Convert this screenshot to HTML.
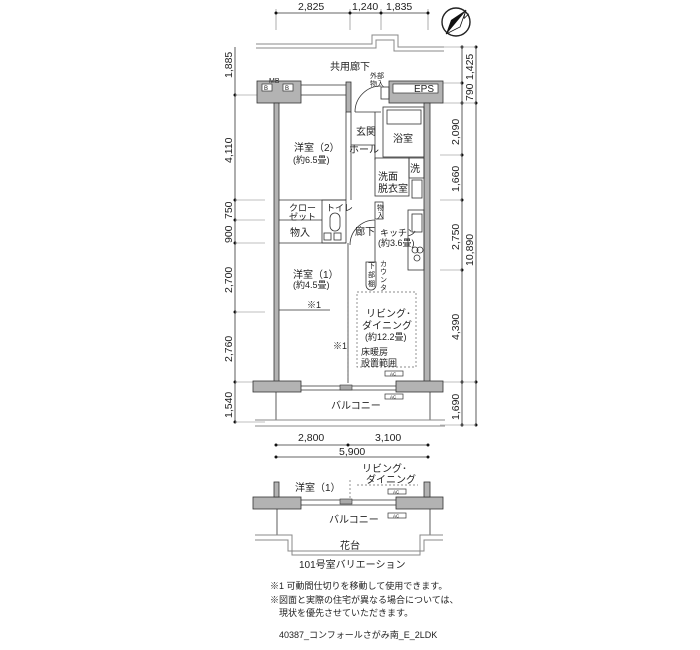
<!DOCTYPE html>
<html><head><meta charset="utf-8"><style>
html,body{margin:0;padding:0;background:#fff;}
svg{display:block;}
text{font-family:"Liberation Sans","Noto Sans CJK JP",sans-serif;fill:#222;}
.s{font-size:9px;}
.m{font-size:10px;}
.d{font-size:10.5px;}
</style></head><body>
<svg width="700" height="650" viewBox="0 0 700 650" xmlns="http://www.w3.org/2000/svg">
<g stroke="#333" stroke-width="0.8" fill="none">
<line x1="276" y1="13" x2="428" y2="13"/>
<line x1="276" y1="9" x2="276" y2="30" stroke="#999"/><line x1="350" y1="9" x2="350" y2="30" stroke="#999"/>
<line x1="381" y1="9" x2="381" y2="30" stroke="#999"/><line x1="428" y1="9" x2="428" y2="30" stroke="#999"/>
<line x1="235" y1="47" x2="235" y2="422"/>
<line x1="462" y1="47" x2="462" y2="425"/>
<line x1="476" y1="47" x2="476" y2="425"/>
<line x1="276" y1="445" x2="428" y2="445"/>
<line x1="276" y1="457" x2="428" y2="457"/>
</g>
<g fill="#111">
<circle cx="276" cy="13" r="1.5"/><circle cx="350" cy="13" r="1.5"/><circle cx="381" cy="13" r="1.5"/><circle cx="428" cy="13" r="1.5"/>
<circle cx="235" cy="95" r="1.5"/><circle cx="235" cy="200" r="1.5"/><circle cx="235" cy="220" r="1.5"/><circle cx="235" cy="243" r="1.5"/><circle cx="235" cy="312" r="1.5"/><circle cx="235" cy="382" r="1.5"/><circle cx="235" cy="422" r="1.5"/>
<circle cx="462" cy="47" r="1.5"/><circle cx="462" cy="83" r="1.5"/><circle cx="462" cy="103" r="1.5"/><circle cx="462" cy="155" r="1.5"/><circle cx="462" cy="200" r="1.5"/><circle cx="462" cy="270" r="1.5"/><circle cx="462" cy="382" r="1.5"/><circle cx="462" cy="425" r="1.5"/>
<circle cx="476" cy="47" r="1.5"/><circle cx="476" cy="103" r="1.5"/><circle cx="476" cy="382" r="1.5"/><circle cx="476" cy="425" r="1.5"/>
<circle cx="276" cy="445" r="1.5"/><circle cx="348" cy="445" r="1.5"/><circle cx="428" cy="445" r="1.5"/>
<circle cx="276" cy="457" r="1.5"/><circle cx="428" cy="457" r="1.5"/>
</g>
<g stroke="#aaa" stroke-width="0.7">
<line x1="235" y1="95" x2="265" y2="95"/><line x1="235" y1="200" x2="265" y2="200"/><line x1="235" y1="220" x2="265" y2="220"/><line x1="235" y1="243" x2="265" y2="243"/><line x1="235" y1="312" x2="265" y2="312"/><line x1="235" y1="382" x2="265" y2="382"/><line x1="235" y1="422" x2="265" y2="422"/>
<line x1="440" y1="47" x2="476" y2="47"/><line x1="440" y1="83" x2="462" y2="83"/><line x1="440" y1="103" x2="476" y2="103"/><line x1="440" y1="155" x2="462" y2="155"/><line x1="440" y1="200" x2="462" y2="200"/><line x1="440" y1="270" x2="462" y2="270"/><line x1="440" y1="382" x2="476" y2="382"/><line x1="440" y1="425" x2="476" y2="425"/>
</g>
<text class="d" x="298" y="10">2,825</text><text class="d" x="352" y="10">1,240</text><text class="d" x="386" y="10">1,835</text>
<g class="d">
<text transform="translate(232,78) rotate(-90)">1,885</text>
<text transform="translate(232,163) rotate(-90)">4,110</text>
<text transform="translate(232,219) rotate(-90)">750</text>
<text transform="translate(232,243) rotate(-90)">900</text>
<text transform="translate(232,293) rotate(-90)">2,700</text>
<text transform="translate(232,362) rotate(-90)">2,760</text>
<text transform="translate(232,418) rotate(-90)">1,540</text>
<text transform="translate(473,80) rotate(-90)">1,425</text>
<text transform="translate(473,101) rotate(-90)">790</text>
<text transform="translate(459,145) rotate(-90)">2,090</text>
<text transform="translate(459,192) rotate(-90)">1,660</text>
<text transform="translate(459,250) rotate(-90)">2,750</text>
<text transform="translate(473,266) rotate(-90)">10,890</text>
<text transform="translate(459,340) rotate(-90)">4,390</text>
<text transform="translate(459,420) rotate(-90)">1,690</text>
</g>
<text class="d" x="298" y="441">2,800</text><text class="d" x="375" y="441">3,100</text><text class="d" x="339" y="455">5,900</text>
<circle cx="456" cy="22" r="14" fill="#fff" stroke="#222" stroke-width="1.4"/>
<polygon points="466,10 446,34 451,20" fill="#111"/>
<polygon points="466,10 446,34 460,27" fill="#fff" stroke="#111" stroke-width="0.8"/>
<text x="462" y="17" font-size="10" transform="rotate(45 464 13)">N</text>
<g stroke="#888" stroke-width="1" fill="none">
<path d="M256 44 H372 V35 H398 V47 H444"/>
<path d="M256 48 H376 V40 H394 V51 H444"/>
</g>
<text class="m" x="330" y="70">共用廊下</text>
<g fill="#b3b3b3" stroke="#333" stroke-width="0.8">
<rect x="257" y="81" width="44" height="22"/>
<rect x="389" y="81" width="54" height="22"/>
<rect x="274" y="103" width="5" height="279"/>
<rect x="424" y="103" width="6" height="279"/>
<rect x="346" y="82" width="5" height="30"/>
<rect x="253" y="381" width="48" height="11"/>
<rect x="396" y="381" width="47" height="11"/>
<rect x="253" y="497" width="48" height="12"/>
<rect x="396" y="497" width="47" height="12"/>
<rect x="274" y="482" width="5" height="15"/>
<rect x="424" y="482" width="6" height="15"/>
</g>
<g fill="#fff" stroke="#333" stroke-width="0.7">
<rect x="262" y="84" width="10" height="7"/><rect x="283" y="84" width="10" height="7"/>
<rect x="393" y="84" width="45" height="9"/>
</g>
<text x="269" y="83" font-size="7">MB</text>
<text x="264" y="90" font-size="6">B</text><text x="285" y="90" font-size="6">B</text>
<text class="m" x="414" y="92">EPS</text>
<text x="370" y="78" font-size="7">外部</text><text x="370" y="86" font-size="7">物入</text>
<g stroke="#333" stroke-width="0.8" fill="none">
<line x1="301" y1="85" x2="346" y2="85"/><line x1="301" y1="95" x2="346" y2="95"/>
<rect x="381" y="87" width="8" height="12"/>
<path d="M355 112 A26 26 0 0 1 381 86"/><line x1="355" y1="112" x2="381" y2="112"/>
<line x1="351" y1="112" x2="351" y2="200"/><line x1="346" y1="112" x2="346" y2="200"/>
<rect x="383" y="107" width="41" height="50"/>
<rect x="387" y="110" width="34" height="14"/>
<line x1="375" y1="112" x2="375" y2="160"/>
<line x1="351" y1="145" x2="375" y2="145"/>
<rect x="375" y="158" width="34" height="38"/>
<rect x="409" y="158" width="15" height="20"/>
<rect x="412" y="180" width="10" height="18"/>
<line x1="279" y1="200" x2="346" y2="200"/>
<line x1="279" y1="220" x2="322" y2="220"/>
<line x1="279" y1="243" x2="346" y2="243"/>
<rect x="322" y="200" width="24" height="43"/>
<rect x="330" y="213" width="10" height="18" rx="5"/>
<rect x="324" y="233" width="7" height="7"/><rect x="334" y="233" width="7" height="7"/>
<rect x="375" y="202" width="8" height="17"/>
<path d="M350 245 A25 25 0 0 1 375 220"/>
<line x1="375" y1="220" x2="375" y2="262"/>
<rect x="408" y="210" width="16" height="60"/>
<rect x="412" y="214" width="10" height="18"/>
<circle cx="415" cy="250" r="3"/><circle cx="420" cy="250" r="3"/><circle cx="417" cy="258" r="3"/>
<path d="M366 262 H376 V285 A5 5 0 0 1 366 285 Z"/>
<line x1="348" y1="243" x2="348" y2="383"/>
<line x1="279" y1="310" x2="330" y2="310"/>
<line x1="301" y1="386" x2="396" y2="386"/><line x1="301" y1="390" x2="396" y2="390"/>
<line x1="276" y1="392" x2="276" y2="420"/><line x1="430" y1="392" x2="430" y2="420"/>
<line x1="301" y1="500" x2="396" y2="500"/><line x1="301" y1="505" x2="396" y2="505"/>
<line x1="277" y1="509" x2="277" y2="535"/><line x1="430" y1="509" x2="430" y2="535"/>
</g>
<g stroke="#888" stroke-width="1" fill="none">
<line x1="255" y1="420" x2="445" y2="420"/><line x1="255" y1="426" x2="445" y2="426"/>
<path d="M255 535 H292 V555 H420 V535 H443"/>
<path d="M255 540 H288 V551 H424 V540 H443"/>
</g>
<g stroke="#666" stroke-width="0.7" fill="none" stroke-dasharray="2,2">
<rect x="357" y="292" width="59" height="75"/>
<line x1="348" y1="300" x2="348" y2="380"/>
<line x1="350" y1="480" x2="350" y2="498"/>
<line x1="357" y1="485" x2="418" y2="485"/>
</g>
<g fill="#fff" stroke="#333" stroke-width="0.7">
<rect x="385" y="371" width="18" height="5"/><rect x="385" y="394" width="18" height="5"/>
<rect x="388" y="489" width="18" height="5"/><rect x="388" y="513" width="18" height="5"/>
</g>
<g font-size="4.5"><text x="390" y="375.5">AC</text><text x="390" y="398.5">AC</text><text x="393" y="493.5">AC</text><text x="393" y="517.5">AC</text></g>
<rect x="340" y="385" width="12" height="5" fill="#aaa" stroke="#333" stroke-width="0.6"/>
<rect x="340" y="499" width="12" height="5" fill="#aaa" stroke="#333" stroke-width="0.6"/>
<text class="m" x="356" y="135">玄関</text>
<text class="m" x="349" y="153">ホール</text>
<text class="m" x="393" y="142">浴室</text>
<text class="m" x="378" y="180">洗面</text><text class="m" x="378" y="192">脱衣室</text>
<text class="m" x="410" y="172">洗</text>
<text class="m" x="294" y="151">洋室（2）</text><text class="s" x="293" y="163">(約6.5畳)</text>
<text class="s" x="289" y="211">クロー</text><text class="s" x="289" y="220">ゼット</text>
<text class="s" x="326" y="211">トイレ</text>
<text class="m" x="290" y="236">物入</text>
<text class="m" x="355" y="235">廊下</text>
<text x="377" y="210" font-size="7">物</text><text x="377" y="218" font-size="7">入</text>
<text class="s" x="380" y="236">キッチン</text><text class="s" x="378" y="246">(約3.6畳)</text>
<text class="m" x="293" y="278">洋室（1）</text><text class="s" x="293" y="288">(約4.5畳)</text>
<text class="s" x="307" y="308">※1</text>
<text class="s" x="333" y="349">※1</text>
<text class="m" x="366" y="317">リビング･</text><text class="m" x="362" y="329">ダイニング</text>
<text class="s" x="365" y="340">(約12.2畳)</text>
<text class="s" x="361" y="355">床暖房</text><text class="s" x="361" y="366">設置範囲</text>
<text x="368" y="268" font-size="7">下</text><text x="368" y="277" font-size="7">部</text><text x="368" y="286" font-size="7">棚</text>
<text x="380" y="266" font-size="7">カ</text><text x="380" y="274" font-size="7">ウ</text><text x="380" y="282" font-size="7">ン</text><text x="380" y="290" font-size="7">タ</text>
<text class="m" x="331" y="409">バルコニー</text>
<text class="m" x="295" y="491">洋室（1）</text>
<text class="m" x="362" y="472">リビング･</text><text class="m" x="366" y="483">ダイニング</text>
<text class="m" x="329" y="523">バルコニー</text>
<text class="m" x="340" y="549">花台</text>
<text class="m" x="299" y="568">101号室バリエーション</text>
<text class="s" x="270" y="589">※1 可動間仕切りを移動して使用できます。</text>
<text class="s" x="270" y="603">※図面と実際の住宅が異なる場合については、</text>
<text class="s" x="279" y="616">現状を優先させていただきます。</text>
<text class="s" x="279" y="638">40387_コンフォールさがみ南_E_2LDK</text>
</svg>
</body></html>
